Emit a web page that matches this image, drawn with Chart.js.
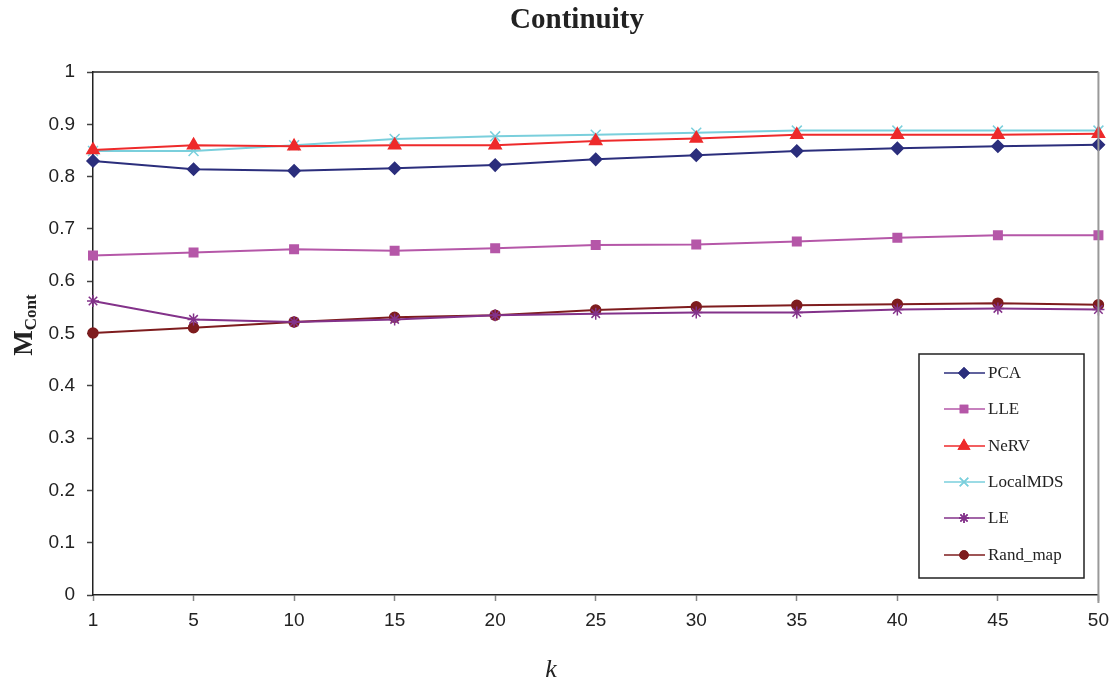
<!DOCTYPE html>
<html>
<head>
<meta charset="utf-8">
<script src="https://cdn.jsdelivr.net/npm/chart.js@4"></script>
<style>
html,body{margin:0;padding:0;background:#fff;}
#wrap{position:relative;width:1117px;height:683px;}
</style>
</head>
<body>
<div id="wrap"><canvas id="c" width="1117" height="683"></canvas></div>
<script>
const categories = ['1','5','10','15','20','25','30','35','40','45','50'];
const yTicks = [0,0.1,0.2,0.3,0.4,0.5,0.6,0.7,0.8,0.9,1];
const pca      = [0.830,0.814,0.811,0.816,0.822,0.833,0.841,0.849,0.854,0.858,0.861];
const lle      = [0.649,0.655,0.661,0.658,0.663,0.669,0.670,0.676,0.683,0.688,0.688];
const nerv     = [0.851,0.860,0.858,0.860,0.860,0.868,0.873,0.880,0.880,0.880,0.882];
const localMDS = [0.849,0.849,0.860,0.872,0.877,0.880,0.884,0.888,0.888,0.888,0.888];
const le       = [0.562,0.527,0.522,0.527,0.535,0.538,0.540,0.540,0.546,0.548,0.546];
const randMap  = [0.501,0.511,0.522,0.531,0.535,0.545,0.551,0.554,0.556,0.558,0.555];
const seriesNames = ['PCA','LLE','NeRV','LocalMDS','LE','Rand_map'];

function ds(label, data, color, style, radius) {
  return {label, data, borderColor: color, backgroundColor: color,
    borderWidth: 2, pointStyle: style, pointRadius: radius, pointHoverRadius: radius,
    pointBorderColor: color, pointBackgroundColor: color, pointBorderWidth: 1.5, tension: 0, fill: false};
}

const datasets = [
  ds(seriesNames[0], pca, '#2B2E7C', 'rectRot', 6),
  ds(seriesNames[1], lle, '#B557A8', 'rect', 6),
  ds(seriesNames[2], nerv, '#EE2A2B', 'triangle', 7),
  ds(seriesNames[3], localMDS, '#7ACFDC', 'crossRot', 7),
  ds(seriesNames[4], le, '#83328A', 'star', 6),
  ds(seriesNames[5], randMap, '#7E1C1E', 'circle', 5)
];

const decor = {
  id: 'decor',
  afterDraw(chart) {
    const ctx = chart.ctx;
    const a = chart.chartArea;
    ctx.save();
    // top border and right border
    ctx.strokeStyle = '#222'; ctx.lineWidth = 1.5;
    ctx.beginPath(); ctx.moveTo(a.left, a.top); ctx.lineTo(a.right, a.top); ctx.stroke();
    ctx.strokeStyle = '#999'; ctx.lineWidth = 2;
    ctx.beginPath(); ctx.moveTo(a.right, a.top); ctx.lineTo(a.right, a.bottom + 8); ctx.stroke();
    // title
    ctx.fillStyle = '#222';
    ctx.font = 'bold 29px "Liberation Serif", "DejaVu Serif", serif';
    ctx.textAlign = 'center'; ctx.textBaseline = 'alphabetic';
    ctx.fillText('Continuity', 577, 28);
    // x label
    ctx.font = 'italic 26px "Liberation Serif", serif';
    ctx.fillText('k', 551, 677);
    // y label M_Cont
    ctx.translate(32, 325);
    ctx.rotate(-Math.PI/2);
    ctx.textAlign = 'left';
    ctx.font = 'bold 27px "Liberation Serif", serif';
    const wM = ctx.measureText('M').width;
    ctx.font = 'bold 17px "Liberation Serif", serif';
    const wC = ctx.measureText('Cont').width;
    const start = -(wM + wC) / 2;
    ctx.font = 'bold 27px "Liberation Serif", serif';
    ctx.fillText('M', start, 0);
    ctx.font = 'bold 17px "Liberation Serif", serif';
    ctx.fillText('Cont', start + wM, 4);
    ctx.restore();

    // legend
    ctx.save();
    const lx = 919, ly = 354, lw = 165, lh = 224;
    ctx.fillStyle = '#fff';
    ctx.fillRect(lx, ly, lw, lh);
    ctx.strokeStyle = '#222'; ctx.lineWidth = 1.5;
    ctx.strokeRect(lx, ly, lw, lh);
    const rowY = [373, 409, 446, 482, 518, 555];
    chart.data.datasets.forEach((d, i) => {
      const y = rowY[i];
      ctx.strokeStyle = d.borderColor; ctx.lineWidth = 1.5;
      ctx.beginPath(); ctx.moveTo(944, y); ctx.lineTo(985, y); ctx.stroke();
      Chart.helpers.drawPoint(ctx, {pointStyle: d.pointStyle, radius: d.pointRadius - 1, borderWidth: 1.5, rotation: 0}, 964, y);
      ctx.fillStyle = d.borderColor;
      ctx.strokeStyle = d.borderColor;
      Chart.helpers.drawPoint(ctx, {pointStyle: d.pointStyle, radius: d.pointRadius - 1, borderWidth: 1.5, rotation: 0}, 964, y);
      ctx.fill();
      ctx.fillStyle = '#222';
      ctx.font = '17px "Liberation Serif", serif';
      ctx.textAlign = 'left'; ctx.textBaseline = 'middle';
      ctx.fillText(d.label, 988, y + 1);
    });
    ctx.restore();
  }
};

new Chart(document.getElementById('c'), {
  type: 'line',
  data: { labels: categories, datasets },
  options: {
    responsive: false,
    animation: false,
    devicePixelRatio: 1,
    layout: { padding: { top: 72, right: 17, left: 0, bottom: 0 } },
    plugins: { legend: { display: false }, title: { display: false }, tooltip: { enabled: false } },
    scales: {
      x: {
        type: 'category',
        offset: false,
        grid: { drawOnChartArea: false, drawTicks: true, tickLength: 6, tickColor: '#888', tickWidth: 1.5 },
        border: { color: '#222', width: 1.5 },
        ticks: { color: '#222', font: { family: '"Liberation Sans", Arial, sans-serif', size: 19 }, padding: 8, maxRotation: 0, autoSkip: false },
        afterFit(s) { s.height = 88; }
      },
      y: {
        min: 0, max: 1,
        afterBuildTicks(s) { s.ticks = yTicks.map(v => ({ value: v })); },
        grid: { drawOnChartArea: false, drawTicks: true, tickLength: 6, tickColor: '#444', tickWidth: 1.5 },
        border: { color: '#222', width: 1.5 },
        ticks: { color: '#222', font: { family: '"Liberation Sans", Arial, sans-serif', size: 19 }, padding: 12,
          callback: v => String(v) },
        afterFit(s) { s.width = 93; }
      }
    }
  },
  plugins: [decor]
});
</script>
</body>
</html>
